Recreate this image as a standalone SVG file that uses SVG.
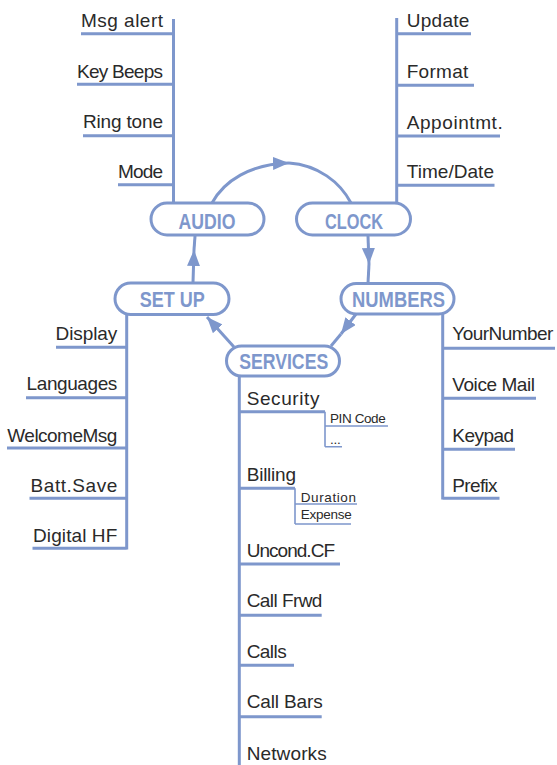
<svg xmlns="http://www.w3.org/2000/svg" width="557" height="765" viewBox="0 0 557 765">
<style>
.ln{stroke:#7e97cc;stroke-width:3;fill:none}
.th{stroke:#7e97cc;stroke-width:1.6;fill:none}
.pill{stroke:#7e97cc;stroke-width:3;fill:#fff}
.nt{font-family:"Liberation Sans",Arial,sans-serif;font-weight:bold;font-size:22px;fill:#7e97cc;text-anchor:middle}
.lb{font-family:"Liberation Sans",Arial,sans-serif;font-size:19px;fill:#2a2a2a}
.sl{font-family:"Liberation Sans",Arial,sans-serif;font-size:13.5px;fill:#2a2a2a}
.e{text-anchor:end}
</style>
<defs>
<marker id="ah" markerUnits="userSpaceOnUse" markerWidth="16" markerHeight="13" refX="16" refY="6.5" orient="auto">
<path d="M0,0 L16,6.5 L0,13 Z" fill="#7e97cc"/>
</marker>
</defs>
<rect width="557" height="765" fill="#fff"/>
<g id="connectors">
<path class="ln" d="M212,203 C224,181 250,164 289,163" marker-end="url(#ah)"/>
<path class="ln" d="M289,163 C318,165 340,182 351,203"/>
<path class="ln" d="M368,236 L369,264" marker-end="url(#ah)"/>
<path class="ln" d="M369,264 L368,283"/>
<path class="ln" d="M356,314 L341,334" marker-end="url(#ah)"/>
<path class="ln" d="M341,334 L331,346"/>
<path class="ln" d="M234,347 L207,317" marker-end="url(#ah)"/>
<path class="ln" d="M193,283 L194,250" marker-end="url(#ah)"/>
<path class="ln" d="M194,250 L195,236"/>
</g>
<g id="audio">
<path class="ln" d="M173.5,19 V203 M81,33.7 H173.5 M77,84.3 H173.5 M83,135.7 H173.5 M118,184.7 H173.5"/>
<rect class="pill" x="151" y="203" width="113" height="32" rx="16"/>
<text class="nt" x="207" y="228.5" textLength="57" lengthAdjust="spacingAndGlyphs">AUDIO</text>
<text class="lb e" x="163" y="27" textLength="82">Msg alert</text>
<text class="lb e" x="163" y="77.5" textLength="86">Key Beeps</text>
<text class="lb e" x="163" y="128" textLength="80">Ring tone</text>
<text class="lb e" x="163" y="177.5" textLength="45">Mode</text>
</g>
<g id="clock">
<path class="ln" d="M396.7,18 V203 M396.7,33.7 H471 M396.7,85.3 H474 M396.7,136 H500 M396.7,185.3 H494.5"/>
<rect class="pill" x="296.5" y="203" width="114" height="32" rx="16"/>
<text class="nt" x="354" y="228.5" textLength="58" lengthAdjust="spacingAndGlyphs">CLOCK</text>
<text class="lb" x="406.7" y="27" textLength="62.7">Update</text>
<text class="lb" x="406.7" y="78" textLength="61.7">Format</text>
<text class="lb" x="406.7" y="128.5" textLength="96">Appointmt.</text>
<text class="lb" x="406.7" y="178" textLength="87.3">Time/Date</text>
</g>
<g id="setup">
<path class="ln" d="M126.7,314 V549.5 M56,347.3 H126.7 M26,397.7 H126.7 M7,448 H126.7 M29.5,498.3 H126.7 M32.5,548.3 H126.7"/>
<rect class="pill" x="115" y="283" width="114" height="31.5" rx="15.75"/>
<text class="nt" x="172.3" y="306.5" textLength="65" lengthAdjust="spacingAndGlyphs">SET UP</text>
<text class="lb e" x="117.3" y="340" textLength="61.7">Display</text>
<text class="lb e" x="117.3" y="390" textLength="90.7">Languages</text>
<text class="lb e" x="117.3" y="441.5" textLength="110">WelcomeMsg</text>
<text class="lb e" x="117.3" y="491.5" textLength="86.7">Batt.Save</text>
<text class="lb e" x="117.3" y="541.5" textLength="84.3">Digital HF</text>
</g>
<g id="numbers">
<path class="ln" d="M442.7,314 V499.5 M442.7,348.3 H555 M442.7,398.3 H536 M442.7,449.3 H515 M442.7,498.3 H499.5"/>
<rect class="pill" x="341" y="283.5" width="113" height="30.5" rx="15.25"/>
<text class="nt" x="398.5" y="306.7" textLength="93" lengthAdjust="spacingAndGlyphs">NUMBERS</text>
<text class="lb" x="452.3" y="340" textLength="101">YourNumber</text>
<text class="lb" x="452.3" y="390.5" textLength="82.7">Voice Mail</text>
<text class="lb" x="452.3" y="441.5" textLength="61.7">Keypad</text>
<text class="lb" x="452.3" y="491.5" textLength="45.3">Prefix</text>
</g>
<g id="services">
<path class="ln" d="M239.3,376 V765 M239.3,411.7 H325 M239.3,488.3 H295 M239.3,564 H340 M239.3,615.3 H321.7 M239.3,665.3 H294 M239.3,716.7 H321.7"/>
<path class="th" d="M325,411.7 V446.7 M325,426 H388 M325,446.7 H342 M295,488.3 V524 M295,504 H357 M295,524 H351"/>
<rect class="pill" x="226.5" y="346" width="113" height="30" rx="15"/>
<text class="nt" x="283.7" y="368.5" textLength="89" lengthAdjust="spacingAndGlyphs">SERVICES</text>
<text class="lb" x="246.7" y="405" textLength="72.7">Security</text>
<text class="lb" x="246.7" y="481" textLength="49.3">Billing</text>
<text class="lb" x="246.7" y="557" textLength="88.3">Uncond.CF</text>
<text class="lb" x="246.7" y="607" textLength="75.7">Call Frwd</text>
<text class="lb" x="246.7" y="658.3" textLength="40">Calls</text>
<text class="lb" x="246.7" y="708.3" textLength="76">Call Bars</text>
<text class="lb" x="246.7" y="760" textLength="80">Networks</text>
<text class="sl" x="330" y="423.3" textLength="55.7">PIN Code</text>
<text class="sl" x="330" y="444" textLength="10.7">...</text>
<text class="sl" x="300.7" y="501.7" textLength="55.3">Duration</text>
<text class="sl" x="300.7" y="519.3" textLength="51">Expense</text>
</g>
</svg>
